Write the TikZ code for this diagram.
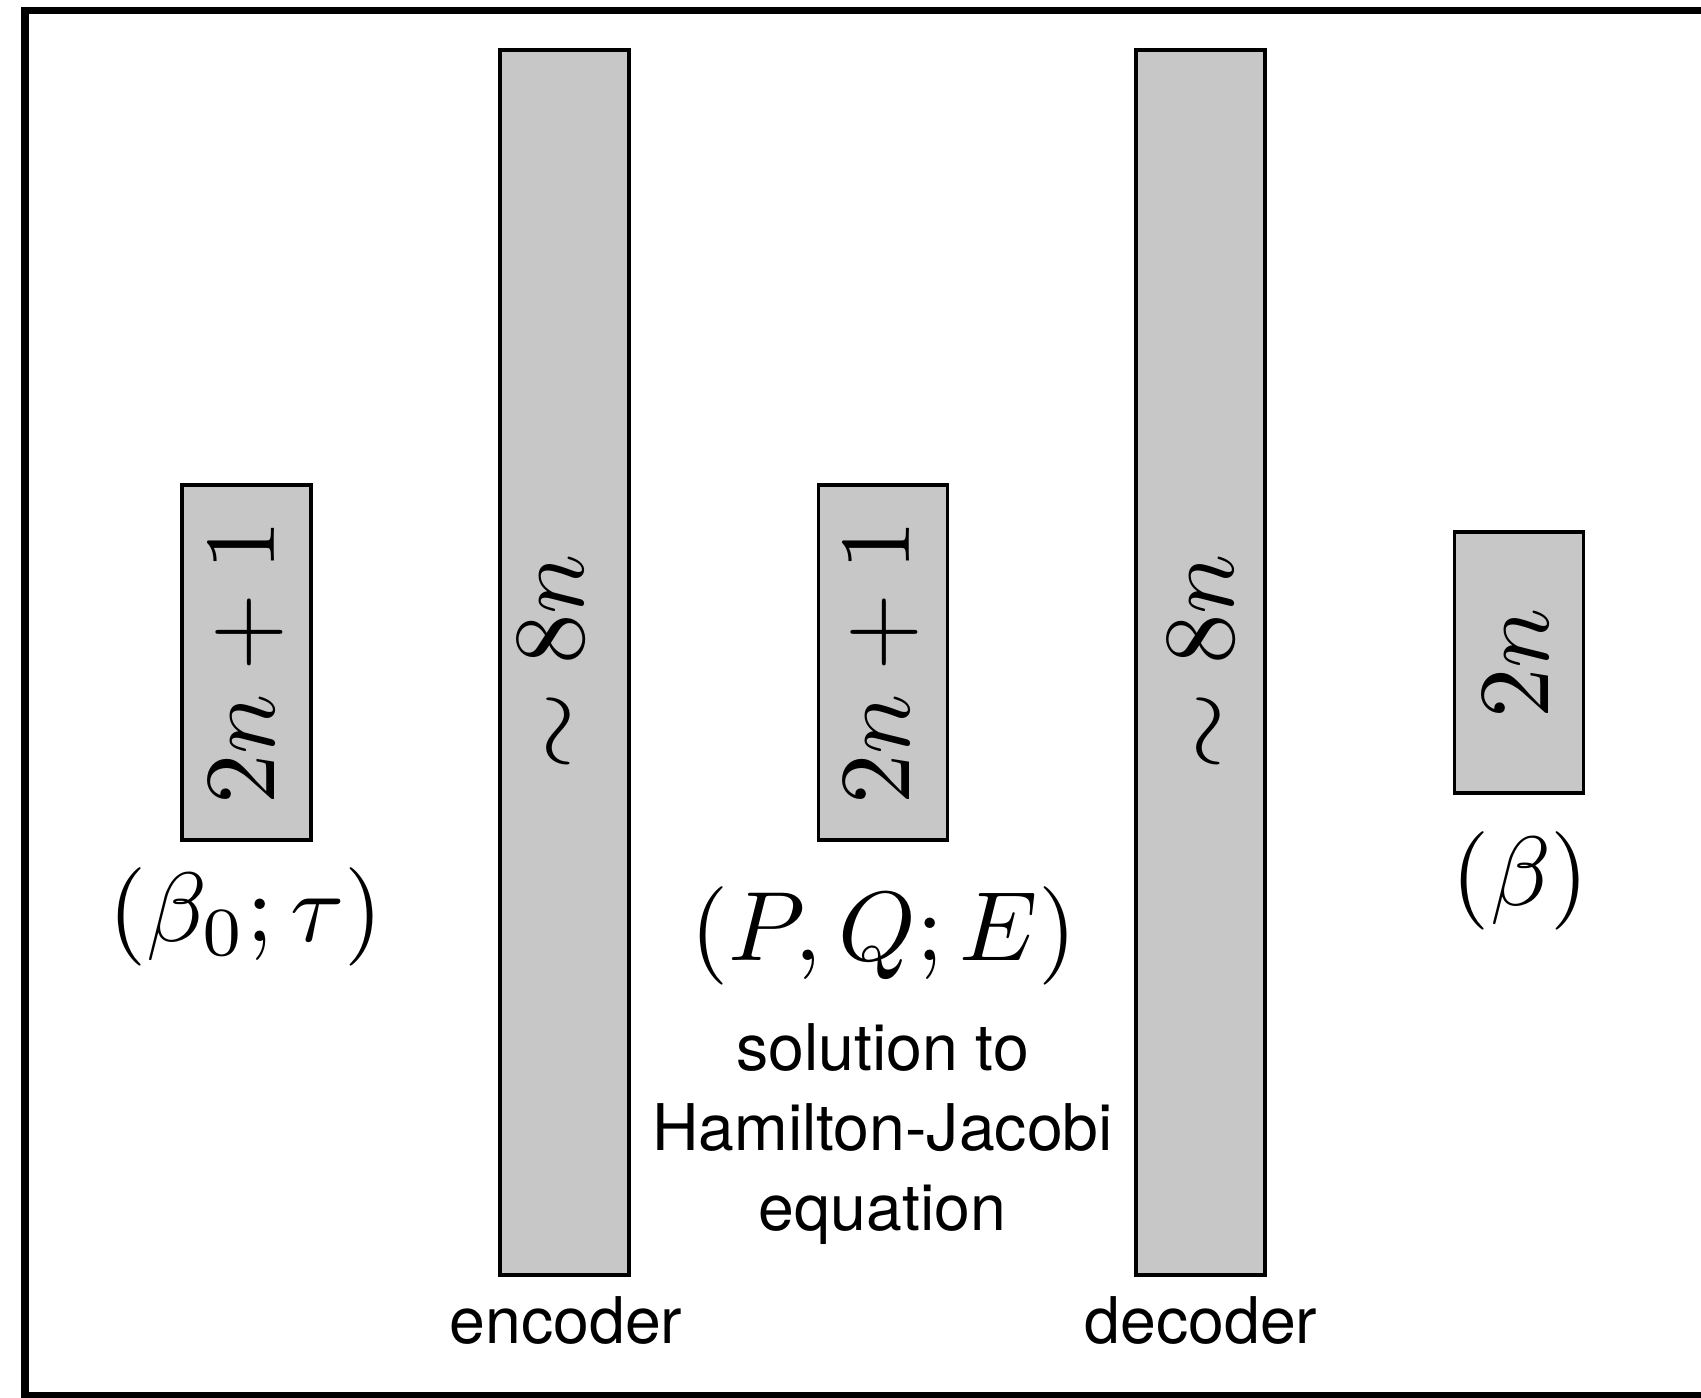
\documentclass[tikz,border=0pt]{standalone}
\usepackage{fontspec}
\setsansfont{TeX Gyre Heros}
\definecolor{boxgray}{RGB}{199,199,199}
\tikzset{
  layer/.style={draw=black, fill=boxgray, line width=0.038cm, inner sep=0pt, outer sep=0pt, minimum width=1.29cm},
  mathlbl/.style={font=\fontsize{10}{12}\selectfont, scale=2.86, inner sep=0pt, outer sep=0pt},
  varlbl/.style={font=\fontsize{10}{12}\selectfont, scale=2.80, inner sep=0pt, outer sep=0pt, anchor=base},
  sanslbl/.style={font=\sffamily\fontsize{18.3}{22.8}\selectfont, inner sep=0pt, outer sep=0pt, align=center},
}
\begin{document}
\begin{tikzpicture}[x=0.01cm,y=-0.01cm]
\useasboundingbox (0,0) rectangle (1701,1398);
\clip (0,0) rectangle (1701,1398);
\fill[white] (0,0) rectangle (1701,1398);
\draw[line width=0.075cm] (25,10.5) rectangle (1780,1395.5);

\node[layer, minimum height=3.55cm]  (in)  at (246.5,662.5) {};
\node[layer, minimum height=12.25cm] (enc) at (564.5,662.5) {};
\node[layer, minimum height=3.55cm]  (lat) at (883,662.5) {};
\node[layer, minimum height=12.25cm] (dec) at (1200.5,662.5) {};
\node[layer, minimum height=2.61cm]  (out) at (1519,662.5) {};

\node[mathlbl, rotate=90] (inlbl)  at (246.5,662.5) {$2n+1$};
\node[mathlbl, rotate=90] (enclbl) at (551,662.5) {$\sim 8n$};
\node[mathlbl, rotate=90] (latlbl) at (881,662.5) {$2n+1$};
\node[mathlbl, rotate=90] (declbl) at (1201,662.5) {$\sim 8n$};
\node[mathlbl, rotate=90] (outlbl) at (1516,663.5) {$2n$};

\node[varlbl] (invar)  at (245.5,941) {$(\beta_0;\tau)$};
\node[varlbl] (latvar) at (883.5,960) {$(P,Q;E)$};
\node[varlbl] (outvar) at (1520.5,905) {$(\beta)$};

\node[sanslbl] (hj) at (882.5,1134) {solution to\\Hamilton-Jacobi\\equation};
\node[sanslbl, anchor=base] (enctxt) at (566,1343) {encoder};
\node[sanslbl, anchor=base] (dectxt) at (1201,1343) {decoder};
\end{tikzpicture}
\end{document}
